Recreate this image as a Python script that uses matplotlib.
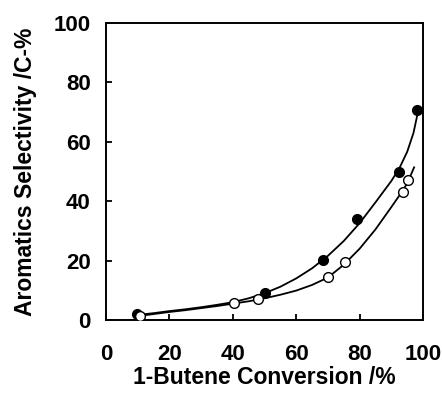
import matplotlib
matplotlib.use("Agg")
import matplotlib.pyplot as plt

plt.rcParams['font.family'] = ['Liberation Sans', 'DejaVu Sans']
plt.rcParams['font.weight'] = 'bold'

# Measured points
conv_filled = [9.8, 50.0, 68.4, 79.2, 92.5, 98.2]
sel_filled = [1.9, 9.0, 20.3, 33.9, 50.0, 70.8]

conv_open = [10.6, 40.5, 47.8, 70.0, 75.5, 93.6, 95.3]
sel_open = [1.3, 5.6, 7.1, 14.5, 19.4, 43.2, 47.1]

# Trend curves
curve_filled_x = [10, 15, 20, 25, 30, 35, 40, 45, 50, 55, 60, 65, 70, 75, 80, 85, 90, 92.5, 95, 97, 98.5]
curve_filled_y = [1.7, 2.3, 3.0, 3.6, 4.3, 5.1, 6.0, 7.3, 9.0, 11.2, 14.0, 17.4, 21.6, 26.6, 32.6, 39.6, 46.8, 51.0, 56.6, 63.0, 70.5]

curve_open_x = [10, 15, 20, 25, 30, 35, 40, 45, 50, 55, 60, 65, 70, 75, 80, 85, 90, 93.5, 95, 97.2]
curve_open_y = [1.3, 2.0, 2.7, 3.3, 4.0, 4.7, 5.5, 6.3, 7.3, 8.5, 9.9, 11.8, 14.3, 18.6, 24.0, 30.5, 38.0, 43.4, 46.0, 51.4]

ticks = [0, 20, 40, 60, 80, 100]

fig = plt.figure(figsize=(4.42, 3.94), dpi=100)
ax = fig.add_axes([106 / 442, 1 - 320 / 394, 317 / 442, 297 / 394])

ax.plot(curve_filled_x, curve_filled_y, color='black', lw=1.3, zorder=2)
ax.plot(curve_open_x, curve_open_y, color='black', lw=1.3, zorder=2)
ax.plot(conv_filled, sel_filled, 'o', ms=7, mfc='black', mec='black', zorder=3)
ax.plot(conv_open, sel_open, 'o', ms=7, mfc='white', mec='black', mew=1.0, zorder=4)

ax.set_xlim(0, 100)
ax.set_ylim(0, 100)
ax.set_xticks(ticks)
ax.set_yticks(ticks)
ax.tick_params(direction='in', length=4, width=1.3, labelsize=16, pad=11)
ax.tick_params(axis='x', pad=17)
for lbl in ax.get_xticklabels() + ax.get_yticklabels():
    lbl.set_fontweight('bold')
for sp in ax.spines.values():
    sp.set_linewidth(1.4)

ax.set_xlabel('1-Butene Conversion /%', fontsize=16.5, fontweight='bold', labelpad=1)
ax.set_ylabel('Aromatics Selectivity /C-%', fontsize=16.5, fontweight='bold', labelpad=12)

fig.savefig('out.png', dpi=100)
